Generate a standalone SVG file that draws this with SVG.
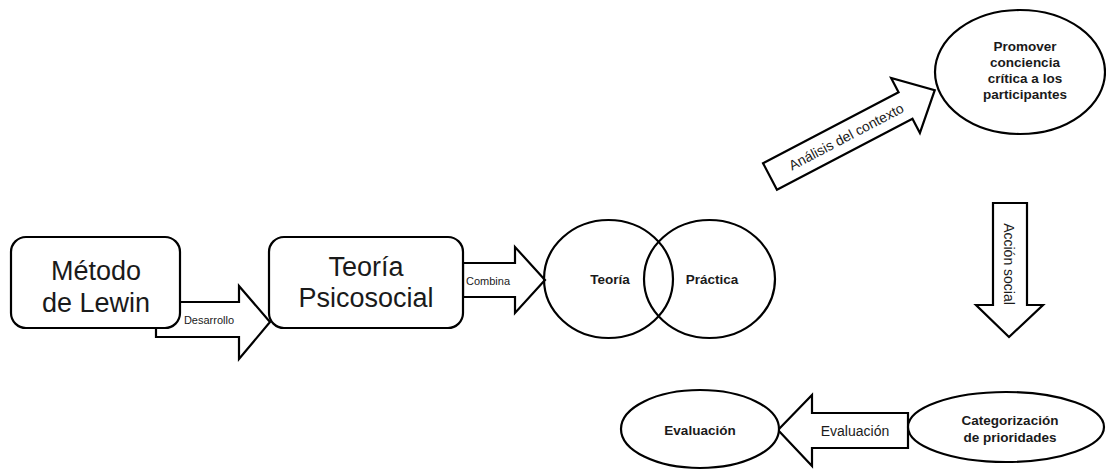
<svg xmlns="http://www.w3.org/2000/svg" width="1106" height="470" viewBox="0 0 1106 470">
<style>
.sh{fill:#fff;stroke:#000;stroke-width:2.2;stroke-linejoin:miter}
.ov{fill:none;stroke:#000;stroke-width:2.2}
.t{font-family:"Liberation Sans",Arial,sans-serif;fill:#1a1a1a;text-anchor:middle}
.big{font-size:27px}
.lbl{font-size:11px}
.lbl2{font-size:14px}
.b{font-size:13.5px;font-weight:bold}
</style>
<rect width="1106" height="470" fill="#fff"/>
<g id="connectors">
  <g id="arrow-desarrollo">
    <polygon class="sh" points="156,302 239,302 239,286 270,322 239,359 239,337 156,337"/>
  </g>
  <g id="arrow-combina">
    <polygon class="sh" points="463,263 515,263 515,247 545,280 515,313 515,297 463,297"/>
  </g>
  <g id="arrow-analisis" transform="translate(770,176.5) rotate(-27.66)">
    <polygon class="sh" points="0,-15 153,-15 153,-31 186,0 153,31 153,15 0,15"/>
    <text class="t lbl2" x="86" y="0" dominant-baseline="central">Análisis del contexto</text>
  </g>
  <g id="arrow-accion">
    <polygon class="sh" points="993,203 1027,203 1027,305 1043,305 1009,337 976,305 993,305"/>
    <text class="t lbl2" transform="translate(1009,264) rotate(90)" dominant-baseline="central">Acción social</text>
  </g>
  <g id="arrow-evaluacion">
    <polygon class="sh" points="908,413 812,413 812,395 778,430 812,466 812,448 908,448"/>
    <text class="t lbl2" x="855" y="436">Evaluación</text>
  </g>
</g>
<g id="node-lewin">
  <rect class="sh" x="11" y="237" width="169" height="91" rx="15"/>
  <text class="t big" x="96" y="280">Método</text>
  <text class="t big" x="96" y="312">de Lewin</text>
</g>
<text class="t lbl" x="209" y="324">Desarrollo</text>
<g id="node-psicosocial">
  <rect class="sh" x="269" y="237" width="194" height="91" rx="15"/>
  <text class="t big" x="366" y="276">Teoría</text>
  <text class="t big" x="366" y="307">Psicosocial</text>
</g>
<text class="t lbl" x="488" y="285">Combina</text>
<g id="node-teoria">
  <ellipse class="ov" cx="608.5" cy="279" rx="64.5" ry="59"/>
  <text class="t b" x="610" y="284">Teoría</text>
</g>
<g id="node-practica">
  <ellipse class="ov" cx="709.5" cy="279" rx="65.5" ry="59"/>
  <text class="t b" x="712" y="284">Práctica</text>
</g>
<g id="node-promover">
  <ellipse class="sh" cx="1020" cy="72" rx="85" ry="62"/>
  <text class="t b" x="1025" y="51">Promover</text>
  <text class="t b" x="1025" y="67">conciencia</text>
  <text class="t b" x="1025" y="83">crítica a los</text>
  <text class="t b" x="1025" y="99">participantes</text>
</g>
<g id="node-categorizacion">
  <ellipse class="sh" cx="1006" cy="427" rx="98" ry="35"/>
  <text class="t b" x="1010" y="425">Categorización</text>
  <text class="t b" x="1010" y="442">de prioridades</text>
</g>
<g id="node-evaluacion">
  <ellipse class="sh" cx="700" cy="429" rx="79" ry="39"/>
  <text class="t b" x="700" y="435">Evaluación</text>
</g>
</svg>
